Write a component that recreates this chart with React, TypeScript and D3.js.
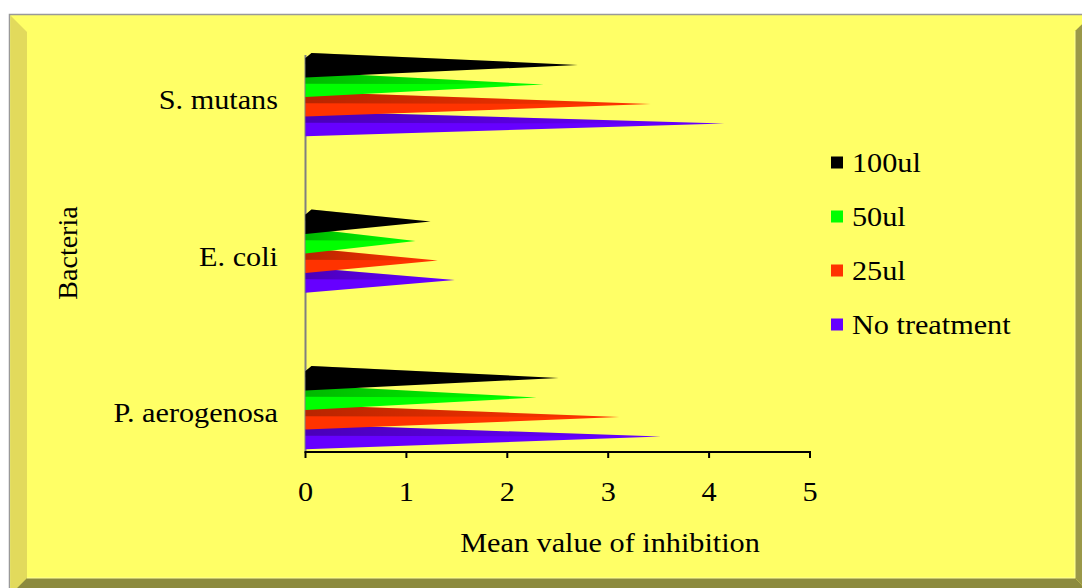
import React from "react";
import * as d3 from "d3";

const categories = ["S. mutans", "E. coli", "P. aerogenosa"];
const seriesNames = ["100ul", "50ul", "25ul", "No treatment"];
const seriesColors = ["#000000", "#00FF00", "#FF3300", "#6600FF"];
const values100 = [2.7, 1.24, 2.51];
const values50 = [2.36, 1.09, 2.29];
const values25 = [3.42, 1.31, 3.11];
const valuesNone = [4.15, 1.48, 3.52];
const xTicks = [0, 1, 2, 3, 4, 5];

const W = 1082;
const H = 588;
const FONT = "'Liberation Serif', 'Times New Roman', serif";
const SX = 1.08;

function Txt({ x, y, anchor = "start", size = 28, children }: any) {
  return (
    <text
      transform={`translate(${x},${y}) scale(${SX},1)`}
      textAnchor={anchor}
      fontFamily={FONT}
      fontSize={size}
      fill="#000"
    >
      {children}
    </text>
  );
}

export default function App() {
  const seriesValues = [values100, values50, values25, valuesNone];
  const x = d3.scaleLinear().domain([0, 5]).range([305.5, 810]);
  const y = d3
    .scaleBand<string>()
    .domain(categories)
    .range([18.75, 488.25])
    .paddingInner(0.5)
    .paddingOuter(0.25);
  const inner = d3
    .scaleBand<string>()
    .domain(seriesNames)
    .range([0, y.bandwidth()]);
  const h = inner.bandwidth();
  const legendY = d3.scalePoint<string>().domain(seriesNames).range([162.5, 324.5]);

  const axisY = 452;
  const x0 = x(0);

  const cones: any[] = [];
  categories.forEach((cat, ci) => {
    seriesNames.forEach((s, si) => {
      const v = seriesValues[si][ci];
      const top = (y(cat) as number) + (inner(s) as number);
      const bot = top + h;
      const tipX = x(v);
      const tipY = top + 0.36 * h;
      const main = [
        [x0, top],
        [x0 + 6, top - 5],
        [tipX, tipY],
        [x0, bot],
      ];
      const shade = [
        [x0, top],
        [x0 + 6, top - 5],
        [tipX, tipY],
        [x0, top + 0.32 * h],
      ];
      cones.push({ key: `${ci}-${si}`, order: si, main, shade, color: seriesColors[si] });
    });
  });
  // draw lower cones first so the upper ones overlap their caps
  cones.sort((a, b) => b.order - a.order);
  const line = d3.line();

  return (
    <svg
      width={W}
      height={H}
      style={{ position: "absolute", left: 0, top: 0, background: "#fff" }}
    >
      <defs>
        <linearGradient id="shadeGrad" x1="0" x2="1" y1="0" y2="0">
          <stop offset="0" stopColor="#000" stopOpacity={0.28} />
          <stop offset="0.6" stopColor="#000" stopOpacity={0.1} />
          <stop offset="1" stopColor="#000" stopOpacity={0} />
        </linearGradient>
      </defs>
      {/* frame */}
      <rect x={9.5} y={14.5} width={1090} height={590} fill="#FFFF66" stroke="#999" strokeWidth={1.5} />
      <path d="M10.5,15.5 L27,32 L27,578 L10.5,594.5 Z" fill="#E2DA5C" />
      <path d="M10.5,594.5 L27,578 L1075,578 L1091,594.5 Z" fill="#8C8A3E" />
      <path d="M1091,15.5 L1075,31 L1075,578 L1091,594.5 Z" fill="#9A9848" />
      <line x1={1075} y1={31} x2={1075} y2={578} stroke="#FFFF99" strokeWidth={1} />
      <line x1={27} y1={578} x2={1075} y2={578} stroke="#FFFF99" strokeWidth={1} />

      {/* y axis */}
      <line x1={x0} y1={55} x2={x0} y2={axisY} stroke="#808080" strokeWidth={2} />

      {/* cones */}
      {cones.map((c) => (
        <g key={c.key}>
          <path d={line(c.main as any) + "Z"} fill={c.color} />
          <path d={line(c.shade as any) + "Z"} fill="url(#shadeGrad)" />
        </g>
      ))}

      {/* x axis */}
      <line x1={x0 - 1} y1={axisY} x2={x(5) + 1} y2={axisY} stroke="#000" strokeWidth={2} />
      {xTicks.map((t) => (
        <g key={t}>
          <line x1={x(t)} y1={axisY} x2={x(t)} y2={axisY + 6} stroke="#000" strokeWidth={2} />
          <Txt x={x(t)} y={501} anchor="middle">
            {t}
          </Txt>
        </g>
      ))}
      <Txt x={610} y={552} anchor="middle">
        Mean value of inhibition
      </Txt>

      {/* category labels */}
      {categories.map((c) => (
        <Txt key={c} x={278} y={(y(c) as number) + y.bandwidth() / 2 + 12} anchor="end">
          {c}
        </Txt>
      ))}
      <text
        transform={`translate(77,253) rotate(-90)`}
        textAnchor="middle"
        fontFamily={FONT}
        fontSize={28}
        fill="#000"
      >
        Bacteria
      </text>

      {/* legend */}
      {seriesNames.map((s, i) => (
        <g key={s}>
          <rect x={831} y={(legendY(s) as number) - 6} width={12} height={12} fill={seriesColors[i]} />
          <Txt x={852} y={(legendY(s) as number) + 9}>
            {s}
          </Txt>
        </g>
      ))}
    </svg>
  );
}
